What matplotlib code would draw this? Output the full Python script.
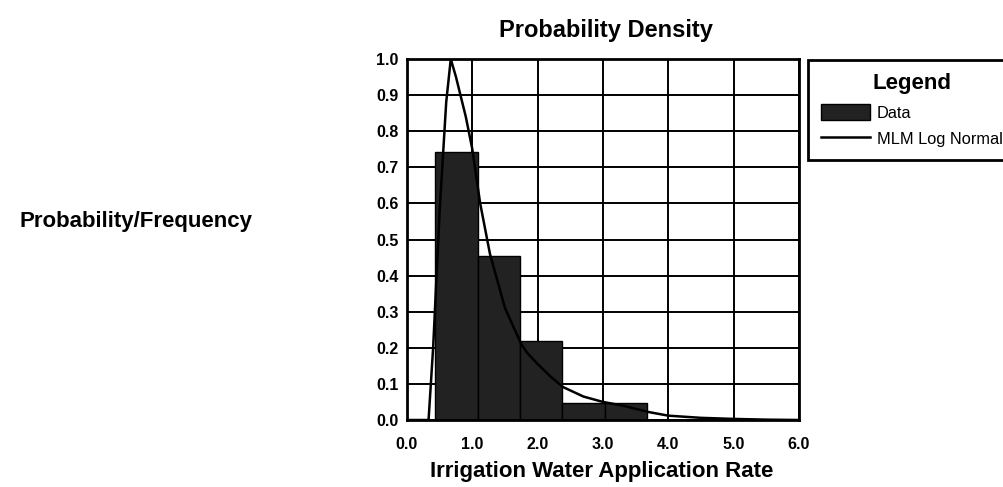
import numpy as np
import matplotlib
matplotlib.use("Agg")
import matplotlib.pyplot as plt

plt.rcParams['font.family'] = ['Liberation Sans', 'DejaVu Sans']

# histogram bins (left edges), width and relative frequency
bin_left = [0.43, 1.08, 1.73, 2.38, 3.03]
bin_width = 0.65
freq = [0.742, 0.455, 0.22, 0.047, 0.047]

# fitted MLM log normal curve
curve_x = [0.0, 0.33, 0.40, 0.50, 0.60, 0.67, 0.75, 0.90, 1.00, 1.12, 1.27,
           1.50, 1.75, 1.84, 2.00, 2.20, 2.38, 2.70, 3.00, 3.30, 3.70, 4.00,
           4.50, 5.00, 5.50, 6.00]
curve_y = [0.0, 0.0, 0.20, 0.58, 0.88, 1.0, 0.95, 0.84, 0.75, 0.60, 0.46,
           0.31, 0.21, 0.186, 0.155, 0.12, 0.092, 0.065, 0.05, 0.04, 0.022,
           0.012, 0.006, 0.003, 0.001, 0.0]

xticks = [0, 1, 2, 3, 4, 5, 6]
yticks = np.arange(0, 11) / 10

W, H = 1004, 487
fig = plt.figure(figsize=(W / 100, H / 100), dpi=100)
ax = fig.add_axes([407 / W, (H - 420) / H, 392 / W, 361 / H])

bars = ax.bar(bin_left, freq, width=bin_width, align='edge',
              color='#222222', edgecolor='black', linewidth=1, zorder=2)
line, = ax.plot(curve_x, curve_y, color='black', linewidth=1.8, zorder=3)

ax.set_xlim(0, 6)
ax.set_ylim(0, 1.0)
ax.set_xticks(xticks)
ax.set_xticklabels([f"{v:.1f}" for v in xticks])
ax.set_yticks(yticks)
ax.set_yticklabels([f"{v:.1f}" for v in yticks])
ax.tick_params(length=0, labelsize=11.5, pad=6)
ax.tick_params(axis='x', pad=12)
for lab in ax.get_xticklabels() + ax.get_yticklabels():
    lab.set_fontweight('bold')
ax.grid(True, color='black', linewidth=1.4, zorder=0)
ax.set_axisbelow(True)
for s in ax.spines.values():
    s.set_linewidth(2)

fig.text(606 / W, 1 - 30 / H, 'Probability Density', ha='center', va='center',
         fontsize=17, fontweight='bold')
fig.text(602 / W, 1 - 472 / H, 'Irrigation Water Application Rate',
         ha='center', va='center', fontsize=16, fontweight='bold')
fig.text(253 / W, 1 - 222 / H, 'Probability/Frequency', ha='right',
         va='center', fontsize=16, fontweight='bold')

leg = fig.legend(handles=[bars, line], labels=['Data', 'MLM Log Normal'],
                 loc='upper left', bbox_to_anchor=(808 / W, 1 - 60 / H),
                 title='Legend', title_fontproperties={'weight': 'bold', 'size': 16},
                 fontsize=11.8, frameon=True, fancybox=False, framealpha=1,
                 edgecolor='black', handlelength=3.0, handleheight=1.15,
                 borderaxespad=0, borderpad=0.8, labelspacing=0.6,
                 handletextpad=0.4)
leg.get_frame().set_linewidth(2)

fig.savefig('out.png', dpi=100)
